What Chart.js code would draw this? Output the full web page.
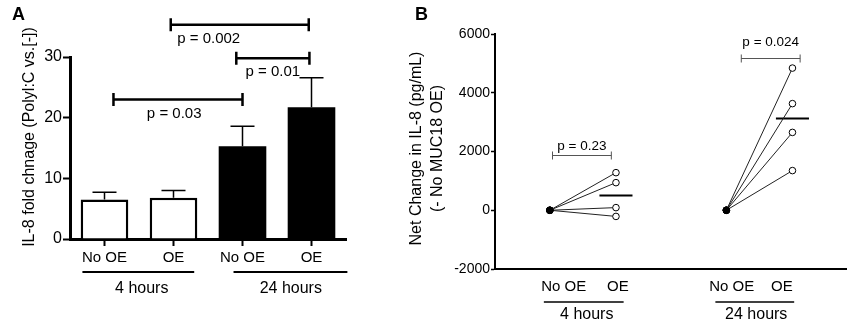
<!DOCTYPE html>
<html>
<head>
<meta charset="utf-8">
<script src="https://cdn.jsdelivr.net/npm/chart.js@4.4.1/dist/chart.umd.min.js"></script>
<style>
  html, body { margin: 0; padding: 0; background: #fff; }
  #wrap { position: relative; width: 851px; height: 326px; overflow: hidden; }
  canvas { position: absolute; top: 0; }
</style>
</head>
<body>
<div id="wrap">
  <canvas id="chartA" width="360" height="326" style="left:0px"></canvas>
  <canvas id="chartB" width="491" height="326" style="left:360px"></canvas>
</div>
<script>
// ---- panel A data
const conditionsA = ['No OE', 'OE', 'No OE', 'OE'];
const groupsA = ['4 hours', '24 hours'];
const foldChange = [6.5, 6.8, 15.3, 21.7];
const foldChangeSem = [1.2, 1.2, 3.3, 4.9];
const yTicksA = [0, 10, 20, 30];
const pTextA = ['p = 0.03', 'p = 0.002', 'p = 0.01'];
const pLevelA = [23, 35.3, 29.8];

// ---- panel B data
const groupsB = ['4 hours', '24 hours'];
const conditionsB = ['No OE', 'OE', 'No OE', 'OE'];
const netNoOE4h = [0, 0, 0, 0];
const netOE4h = [1280, 940, 90, -210];
const netNoOE24h = [0, 0, 0, 0];
const netOE24h = [4840, 3630, 2650, 1350];
const meanOE = [500, 3120];
const yTicksB = [-2000, 0, 2000, 4000, 6000];
const pTextB = ['p = 0.23', 'p = 0.024'];
const pLevelB = [1880, 5170];

const FONT = '"Liberation Sans", Arial, Helvetica, sans-serif';
Chart.defaults.font.family = FONT;
Chart.defaults.color = '#000';

// layout bits for the annotations (category units / pixels)
const bracketA = [[0.13, 2.0], [0.96, 2.96], [1.91, 2.97]];
const bracketTextXA = [1.01, 1.51, 2.44];
const groupLineA = [[-0.32, 1.30], [1.87, 3.52]];
const groupTextXA = [0.54, 2.70];

const panelA = {
  id: 'panelA',
  afterDraw(chart) {
    const { ctx, scales: { x, y } } = chart;
    ctx.save();
    ctx.strokeStyle = '#000';
    ctx.fillStyle = '#000';
    ctx.lineCap = 'butt';

    // error bars (upper only)
    ctx.lineWidth = 1.5;
    foldChange.forEach((v, i) => {
      const cx = x.getPixelForValue(i);
      const y0 = y.getPixelForValue(v);
      const y1 = y.getPixelForValue(v + foldChangeSem[i]);
      ctx.beginPath();
      ctx.moveTo(cx, y0); ctx.lineTo(cx, y1);
      ctx.moveTo(cx - 12, y1); ctx.lineTo(cx + 12, y1);
      ctx.stroke();
    });

    // significance brackets
    ctx.font = '15px ' + FONT;
    ctx.textAlign = 'center';
    ctx.textBaseline = 'middle';
    pTextA.forEach((t, i) => {
      const x0 = x.getPixelForValue(bracketA[i][0]);
      const x1 = x.getPixelForValue(bracketA[i][1]);
      const yy = y.getPixelForValue(pLevelA[i]);
      ctx.lineWidth = 2.5;
      ctx.beginPath();
      ctx.moveTo(x0, yy); ctx.lineTo(x1, yy);
      ctx.moveTo(x0, yy - 6.5); ctx.lineTo(x0, yy + 6.5);
      ctx.moveTo(x1, yy - 6.5); ctx.lineTo(x1, yy + 6.5);
      ctx.stroke();
      ctx.fillText(t, x.getPixelForValue(bracketTextXA[i]), yy + 14);
    });

    // group lines + labels under the axis
    const base = chart.chartArea.bottom;
    ctx.lineWidth = 2;
    ctx.font = '16px ' + FONT;
    groupsA.forEach((g, i) => {
      ctx.beginPath();
      ctx.moveTo(x.getPixelForValue(groupLineA[i][0]), base + 33);
      ctx.lineTo(x.getPixelForValue(groupLineA[i][1]), base + 33);
      ctx.stroke();
      ctx.fillText(g, x.getPixelForValue(groupTextXA[i]), base + 50);
    });

    // axis title
    ctx.save();
    ctx.translate(30, 137);
    ctx.rotate(-Math.PI / 2);
    ctx.font = '16px ' + FONT;
    ctx.fillText('IL-8 fold chnage (Polyl:C vs.[-])', 0, 0);
    ctx.restore();

    // panel letter
    ctx.font = 'bold 18px ' + FONT;
    ctx.fillText('A', 18.5, 15);
    ctx.restore();
  }
};

new Chart(document.getElementById('chartA'), {
  type: 'bar',
  data: {
    labels: conditionsA,
    datasets: [{
      data: foldChange,
      backgroundColor: ['#fff', '#fff', '#000', '#000'],
      borderColor: '#000',
      borderWidth: [2.5, 2.5, 0, 0],
      borderSkipped: 'bottom',
      barPercentage: 0.69,
      categoryPercentage: 1
    }]
  },
  options: {
    responsive: false,
    animation: false,
    layout: { padding: { left: 0, top: 57, right: 14, bottom: 0 } },
    plugins: { legend: { display: false }, tooltip: { enabled: false } },
    scales: {
      x: {
        offset: true,
        grid: { offset: false, drawOnChartArea: false, tickLength: 7, tickWidth: 2, tickColor: '#000' },
        border: { color: '#000', width: 3 },
        ticks: { font: { size: 15 }, color: '#000', padding: 3, maxRotation: 0 },
        afterFit: (s) => { s.height = 87; }
      },
      y: {
        min: 0,
        max: 30,
        afterBuildTicks: (s) => { s.ticks = yTicksA.map(v => ({ value: v })); },
        grid: { drawOnChartArea: false, tickLength: 7, tickWidth: 2, tickColor: '#000' },
        border: { color: '#000', width: 3 },
        ticks: { font: { size: 16 }, color: '#000', padding: 1, callback: (v) => String(v) },
        afterFit: (s) => { s.width = 70; }
      }
    }
  },
  plugins: [panelA]
});

// ---- panel B
const xPosB = [1, 2, 3.67, 4.67];
const bracketB = [[1.04, 1.93], [3.896, 4.786]];
const bracketTextYB = [2190, 5710];
const condTextXB = [1.21, 2.03, 3.75, 4.51];
const groupLineB = [[0.909, 2.116], [3.504, 4.696]];
const groupTextXB = [1.558, 4.122];

const pairSets = [];
netOE4h.forEach((v, i) => pairSets.push([{ x: xPosB[0], y: netNoOE4h[i] }, { x: xPosB[1], y: v }]));
netOE24h.forEach((v, i) => pairSets.push([{ x: xPosB[2], y: netNoOE24h[i] }, { x: xPosB[3], y: v }]));

const datasetsB = pairSets.map(d => ({
  data: d,
  showLine: true,
  borderColor: '#222',
  borderWidth: 1,
  pointRadius: 3.3,
  pointBorderWidth: 1,
  pointBorderColor: '#000',
  pointBackgroundColor: ['#000', '#fff']
}));
meanOE.forEach((m, i) => {
  const cx = xPosB[i * 2 + 1];
  datasetsB.push({
    data: [{ x: cx - 0.25, y: m }, { x: cx + 0.25, y: m }],
    showLine: true,
    borderColor: '#000',
    borderWidth: 2,
    pointRadius: 0
  });
});

const panelB = {
  id: 'panelB',
  afterDraw(chart) {
    const { ctx, scales: { x, y } } = chart;
    ctx.save();
    ctx.textAlign = 'center';
    ctx.textBaseline = 'middle';

    // brackets
    ctx.strokeStyle = '#555';
    ctx.fillStyle = '#000';
    ctx.lineWidth = 1;
    ctx.font = '13.5px ' + FONT;
    pTextB.forEach((t, i) => {
      const x0 = x.getPixelForValue(bracketB[i][0]);
      const x1 = x.getPixelForValue(bracketB[i][1]);
      const yy = Math.round(y.getPixelForValue(pLevelB[i])) + 0.5;
      ctx.beginPath();
      ctx.moveTo(x0, yy); ctx.lineTo(x1, yy);
      ctx.moveTo(x0, yy - 4); ctx.lineTo(x0, yy + 4);
      ctx.moveTo(x1, yy - 4); ctx.lineTo(x1, yy + 4);
      ctx.stroke();
      ctx.fillText(t, (x0 + x1) / 2, y.getPixelForValue(bracketTextYB[i]));
    });

    // condition + group labels
    const base = chart.chartArea.bottom;
    ctx.font = '15px ' + FONT;
    conditionsB.forEach((c, i) => ctx.fillText(c, x.getPixelForValue(condTextXB[i]), base + 18));
    ctx.strokeStyle = '#000';
    ctx.lineWidth = 1.5;
    ctx.font = '16px ' + FONT;
    groupsB.forEach((g, i) => {
      ctx.beginPath();
      ctx.moveTo(x.getPixelForValue(groupLineB[i][0]), base + 33);
      ctx.lineTo(x.getPixelForValue(groupLineB[i][1]), base + 33);
      ctx.stroke();
      ctx.fillText(g, x.getPixelForValue(groupTextXB[i]), base + 46);
    });

    // axis title, two lines
    ctx.font = '16px ' + FONT;
    ctx.save();
    ctx.translate(57, 148.5);
    ctx.rotate(-Math.PI / 2);
    ctx.fillText('Net Change in IL-8 (pg/mL)', 0, 0);
    ctx.fillText('(- No MUC18 OE)', 0, 21);
    ctx.restore();

    ctx.font = 'bold 18px ' + FONT;
    ctx.fillText('B', 61.5, 15);
    ctx.restore();
  }
};

new Chart(document.getElementById('chartB'), {
  type: 'scatter',
  data: { datasets: datasetsB },
  options: {
    responsive: false,
    animation: false,
    layout: { padding: { left: 0, top: 34, right: 4, bottom: 0 } },
    plugins: { legend: { display: false }, tooltip: { enabled: false } },
    scales: {
      x: {
        type: 'linear',
        min: 0.17,
        max: 5.48,
        grid: { display: false, drawTicks: false },
        border: { color: '#000', width: 2 },
        ticks: { display: false },
        afterFit: (s) => { s.height = 57; }
      },
      y: {
        min: -2000,
        max: 6000,
        afterBuildTicks: (s) => { s.ticks = yTicksB.map(v => ({ value: v })); },
        grid: { drawOnChartArea: false, tickLength: 4, tickWidth: 1.5, tickColor: '#000' },
        border: { color: '#000', width: 2 },
        ticks: { font: { size: 14 }, color: '#000', padding: 1, callback: (v) => String(v) },
        afterFit: (s) => { s.width = 135; }
      }
    }
  },
  plugins: [panelB]
});
</script>
</body>
</html>
